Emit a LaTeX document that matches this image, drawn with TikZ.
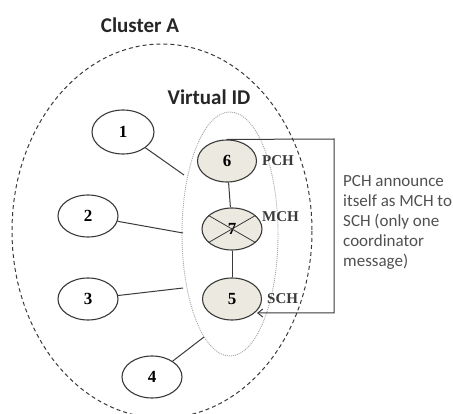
\documentclass[tikz,border=0pt]{standalone}
\usepackage{fontspec}
\setmainfont{Liberation Serif}
\newfontfamily\calib{Carlito}
\usetikzlibrary{shapes.geometric,arrows.meta}
\definecolor{beige}{HTML}{ECEAE0}
\definecolor{edge}{HTML}{3A3A3A}
\definecolor{msgtext}{HTML}{505050}
\tikzset{
  plainnode/.style={ellipse, draw=edge, line width=1.1pt, minimum width=60pt, minimum height=42pt, inner sep=0pt, font=\fontsize{17}{17}\selectfont\bfseries},
  chnode/.style={plainnode, fill=beige, minimum width=59pt},
  link/.style={draw=edge, line width=1pt},
  roletag/.style={font=\fontsize{15}{15}\selectfont\bfseries, inner sep=0pt, anchor=west, text=edge},
  heading/.style={font=\calib\fontsize{21}{21}\selectfont\bfseries, inner sep=0pt, text=black!85}
}
\begin{document}
\begin{tikzpicture}[x=1pt,y=-1pt]
\useasboundingbox (0,0) rectangle (453,414);
% cluster boundary
\draw[edge, line width=1pt, dash pattern=on 4pt off 3pt] (162,231) ellipse [x radius=150, y radius=187];
% virtual ID boundary
\draw[gray!70, line width=0.9pt, dash pattern=on 1pt off 1pt] (230,234) ellipse [x radius=48, y radius=122];
\node[heading] (clusterA) at (140,25) {Cluster A};
\node[heading] (vid) at (209,97) {Virtual ID};
% plain nodes
\node[plainnode, minimum width=62pt, minimum height=44pt] (n1) at (123,132) {1};
\node[plainnode] (n2) at (88,216) {2};
\node[plainnode] (n3) at (88,299) {3};
\node[plainnode] (n4) at (152,377) {4};
% coordinator nodes
\node[chnode] (n6) at (227,161) {6};
\node[chnode, minimum width=60pt] (n7) at (232,229) {7};
\node[chnode] (n5) at (232,299) {5};
\draw[link, line width=0.8pt] (n7.150) -- (n7.-30);
\draw[link, line width=0.8pt] (n7.30) -- (n7.-150);
\node[roletag] (pch) at (262,161) {PCH};
\node[roletag] (mch) at (262,217) {MCH};
\node[roletag] (sch) at (267,299) {SCH};
% virtual ID attachment points
\coordinate (v1) at (184,175);
\coordinate (v2) at (183,233);
\coordinate (v3) at (183,288);
\coordinate (v4) at (204,337);
\draw[link] (n1) -- (v1);
\draw[link] (n2) -- (v2);
\draw[link] (n3) -- (v3);
\draw[link] (n4) -- (v4);
\draw[link] (n6) -- (n7);
\draw[link] (n7) -- (n5);
% announcement bracket
\coordinate (c1) at (334,139);
\coordinate (c2) at (334,313);
\coordinate (tip) at (257,313);
\draw[link, -{Straight Barb[length=5pt,width=8pt]}] (n6.north) -- (c1) -- (c2) -- (tip);
\node[font=\calib\fontsize{17}{20}\selectfont, text=msgtext, align=left, anchor=north west, inner sep=0pt] (msg) at (343,175) {PCH announce\\itself as MCH to\\SCH (only one\\coordinator\\message)};
\end{tikzpicture}
\end{document}
